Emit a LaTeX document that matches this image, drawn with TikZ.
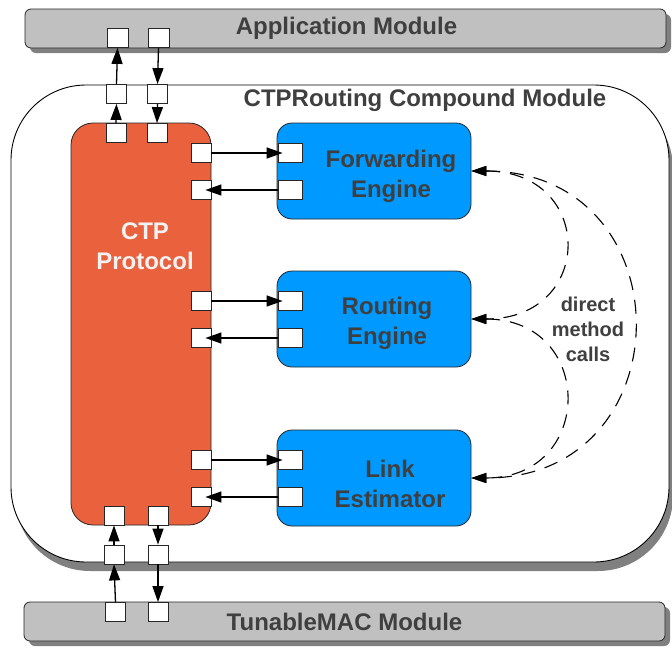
\documentclass[tikz,border=0pt]{standalone}
\usepackage{fontspec}
\setmainfont{Liberation Sans}
\usetikzlibrary{arrows.meta,shadows}
\definecolor{ctporange}{HTML}{E9613D}
\definecolor{engblue}{HTML}{0099FF}
\definecolor{bargray}{HTML}{C0C0C0}
\definecolor{shadowgray}{HTML}{808080}
\definecolor{txtgray}{HTML}{3F3F3F}

\begin{document}
\begin{tikzpicture}[x=1pt,y=-1pt,
  bigtext/.style={font=\fontsize{24}{30}\selectfont\bfseries, text=txtgray, align=center, inner sep=0pt},
  bar/.style={draw=black!85, line width=0.8pt, fill=bargray, rounded corners=6pt,
    minimum width=641pt, minimum height=39pt, inner sep=0pt,
    drop shadow={shadow xshift=5pt, shadow yshift=-5pt, fill=shadowgray, opacity=1}},
  compound/.style={draw=black, line width=0.9pt, fill=white, rounded corners=75pt,
    minimum width=658pt, minimum height=477pt, inner sep=0pt,
    drop shadow={shadow xshift=4pt, shadow yshift=-9pt, fill=shadowgray, opacity=1}},
  ctpbox/.style={draw=black!85, line width=0.8pt, fill=ctporange, rounded corners=22pt,
    minimum width=140pt, minimum height=402pt, inner sep=0pt},
  engine/.style={draw=black!85, line width=0.8pt, fill=engblue, rounded corners=15pt,
    minimum width=194pt, minimum height=96pt, inner sep=0pt},
  port/.style={draw=black!85, line width=0.8pt, fill=white, minimum width=20pt,
    minimum height=19pt, inner sep=0pt},
  eport/.style={port, minimum width=24pt},
  arr/.style={line width=1.3pt, -{Triangle[length=16pt,width=11pt]}},
  dcall/.style={line width=1.1pt, dash pattern=on 14pt off 10pt,
    {Triangle[length=15pt,width=10pt]}-{Triangle[length=15pt,width=10pt]}}
]
\useasboundingbox (0,0) rectangle (672,648);

% outer modules
\node[bar] (app) at (345.5,28.5) {};
\node[bar] (mac) at (344.5,621.5) {};
\node[compound] (cmp) at (340,323.5) {};

% submodules
\node[ctpbox] (ctp) at (141,324) {};
\node[engine] (fe) at (374,171) {};
\node[engine] (re) at (374,319) {};
\node[engine] (le) at (374,478) {};

% labels
\node[bigtext] (appt) at (346.5,28.5) {Application Module};
\node[bigtext] (mact) at (344.5,622) {TunableMAC Module};
\node[bigtext] (cmpt) at (425,100) {CTPRouting Compound Module};
\node[bigtext, text=white!95!black] (ctpt) at (145,246) {CTP\\Protocol};
\node[bigtext] (fet) at (391,176) {Forwarding\\Engine};
\node[bigtext] (ret) at (387,323) {Routing\\Engine};
\node[bigtext] (let) at (390,484) {Link\\Estimator};
\node[font=\fontsize{20}{25}\selectfont\bfseries, text=txtgray, align=center, inner sep=0pt]
  (calls) at (588,329) {direct\\method\\calls};

% gates: application and compound top
\node[port, minimum width=21pt] (aL) at (117.5,38) {};
\node[port, minimum width=21pt] (aR) at (158.5,38) {};
\node[port] (cTL) at (116.5,94) {};
\node[port] (cTR) at (157.5,94) {};
\node[port] (pTL) at (116,133) {};
\node[port] (pTR) at (157,133) {};

% gates: bottom
\node[port] (pBL) at (114,515.5) {};
\node[port] (pBR) at (158,515.5) {};
\node[port] (cBL) at (114,554.5) {};
\node[port] (cBR) at (158,554.5) {};
\node[port] (tL) at (115.5,612) {};
\node[port] (tR) at (158,612) {};

% gates: CTP right side
\node[port] (pF1) at (201,153) {};
\node[port] (pF2) at (201,190) {};
\node[port] (pR1) at (201,301) {};
\node[port] (pR2) at (201,338) {};
\node[port] (pL1) at (201,460) {};
\node[port] (pL2) at (201,497) {};

% gates: engines
\node[eport] (f1) at (290,153) {};
\node[eport] (f2) at (290,190) {};
\node[eport] (r1) at (290,301) {};
\node[eport] (r2) at (290,338) {};
\node[eport] (l1) at (290,460) {};
\node[eport] (l2) at (290,497) {};

% vertical connections
\draw[arr] (cTL.north) -- (aL.south);
\draw[arr] (aR.south) -- (cTR.north);
\draw[arr] (pTL.north) -- (cTL.south);
\draw[arr] (cTR.south) -- (pTR.north);
\draw[arr] (cBL.north) -- (pBL.south);
\draw[arr] (pBR.south) -- (cBR.north);
\draw[arr] (tL.north) -- (cBL.south);
\draw[arr] (cBR.south) -- (tR.north);

% horizontal connections
\draw[arr, shorten >=-5pt] (pF1.east) -- (f1.west);
\draw[arr, shorten >=-6pt] (f2.west) -- (pF2.east);
\draw[arr, shorten >=-5pt] (pR1.east) -- (r1.west);
\draw[arr, shorten >=-6pt] (r2.west) -- (pR2.east);
\draw[arr, shorten >=-5pt] (pL1.east) -- (l1.west);
\draw[arr, shorten >=-6pt] (l2.west) -- (pL2.east);

% direct method calls
\draw[dcall] (fe.east) .. controls +(215,0) and +(215,0) .. (le.east);
\draw[dcall] (fe.east) .. controls +(124,0) and +(124,0) .. (re.east);
\draw[dcall] (re.east) .. controls +(124,0) and +(124,0) .. (le.east);
\end{tikzpicture}
\end{document}
